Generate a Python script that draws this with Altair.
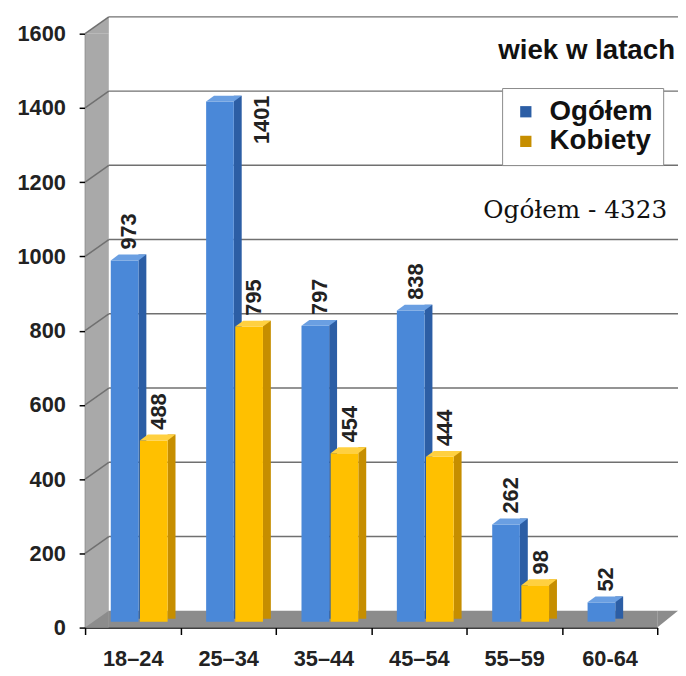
import altair as alt
import pandas as pd

# ---------------- data ----------------
ages = ["18–24", "25–34", "35–44", "45–54", "55–59", "60-64"]
ogolem = [973, 1401, 797, 838, 262, 52]
kobiety = [488, 795, 454, 444, 98, None]
series = ["Ogółem", "Kobiety"]
y_ticks = [0, 200, 400, 600, 800, 1000, 1200, 1400, 1600]
wall_lines = [200, 400, 600, 800, 1000, 1200, 1400, 1600]
title_text = "wiek w latach"
total_text = "Ogółem - 4323"

rows = []
for a, o, k in zip(ages, ogolem, kobiety):
    rows.append({"age": a, "s": series[0], "v": o, "zero": 0})
    if k is not None:
        rows.append({"age": a, "s": series[1], "v": k, "zero": 0})
df = pd.DataFrame(rows)
grid_df = pd.DataFrame({"g": wall_lines})
one = pd.DataFrame({"k": [0]})

# ---------------- style ----------------
W, H = 579, 601
DEPTH_Y = 17
WALL = "#a9a9a9"
FLOOR = "#8c8c8c"
GRID = "#707070"
BLUE_FRONT = "#4a88d8"
BLUE_SIDE = "#2c5ea5"
BLUE_TOP = "#6a9fe2"
GOLD_FRONT = "#ffc000"
GOLD_SIDE = "#c68e00"
GOLD_TOP = "#ffd040"
FONT = "Liberation Sans"

TRI = "M-1,0.7083L1,-0.7083L1,0.7083Z"
TRI_R = "M-0.875,-0.7083L0.875,-0.7083L-0.875,0.7083Z"
TOPFACE = "M-1,0.1667L0.5556,0.1667L1,-0.1667L-0.5556,-0.1667Z"

yscale = alt.Scale(domain=[0, 1600], nice=False)
x_axis = alt.Axis(title=None, grid=False, domainColor="#000000", domainWidth=1.5,
                  tickColor="#000000", tickSize=7, tickWidth=1.5, tickBand="extent",
                  labelAngle=0, labelFont=FONT, labelFontSize=22, labelFontWeight="bold",
                  labelColor="#222222", labelPadding=14)
y_axis = alt.Axis(title=None, values=y_ticks, grid=False, domainColor="#000000",
                  domainWidth=1.5, tickColor="#000000", tickSize=6, tickWidth=1.5,
                  labelFont=FONT, labelFontSize=22, labelFontWeight="bold",
                  labelColor="#222222", labelPadding=14, format="d")

xs = alt.X("age:N", sort=ages, axis=x_axis,
           scale=alt.Scale(domain=ages, paddingInner=0, paddingOuter=0))
ys = alt.Y("v:Q", axis=y_axis, scale=yscale)

# ---------------- decoration (3D box) ----------------
wall = alt.Chart(one).mark_rect(color=WALL).encode(
    x=alt.value(0), x2=alt.value(24),
    y=alt.YDatum(1600, axis=y_axis, scale=yscale),
    y2=alt.Y2Datum(0))
wall_top = alt.Chart(one).mark_point(shape=TRI, size=576, filled=True, opacity=1,
                                     color=WALL, strokeWidth=0, yOffset=-8.5).encode(
    x=alt.value(12), y=alt.YDatum(1600, axis=y_axis, scale=yscale))
floor = alt.Chart(one).mark_rect(color=FLOOR, y2Offset=-DEPTH_Y).encode(
    x=alt.value(24), x2=alt.value(W),
    y=alt.YDatum(0, axis=y_axis, scale=yscale), y2=alt.Y2Datum(0))
floor_l = alt.Chart(one).mark_point(shape=TRI, size=576, filled=True, opacity=1,
                                    color=FLOOR, strokeWidth=0, yOffset=-8.5).encode(
    x=alt.value(12), y=alt.YDatum(0, axis=y_axis, scale=yscale))
floor_r = alt.Chart(one).mark_point(shape=TRI_R, size=576, filled=True, opacity=1,
                                    color=FLOOR, strokeWidth=0, yOffset=-8.5).encode(
    x=alt.value(W + 10.5), y=alt.YDatum(0, axis=y_axis, scale=yscale))
grid = alt.Chart(grid_df).mark_rule(color=GRID, strokeWidth=1.5, yOffset=-DEPTH_Y).encode(
    y=alt.Y("g:Q", axis=y_axis, scale=yscale), x=alt.value(24), x2=alt.value(W + 21))
diag = alt.Chart(grid_df).mark_rule(color=GRID, strokeWidth=1.5, y2Offset=-DEPTH_Y).encode(
    y=alt.Y("g:Q", axis=y_axis, scale=yscale), y2="g:Q", x=alt.value(0), x2=alt.value(24))

legend = alt.Legend(orient="none", legendX=422, legendY=55, title=None,
                    fillColor="white", strokeColor="#8a8a8a", padding=10,
                    symbolType="square", symbolSize=130, symbolStrokeWidth=0,
                    labelFont=FONT, labelFontSize=28, labelFontWeight="bold",
                    labelColor="#111111", rowPadding=2, labelOffset=10)
color_enc = alt.Color("s:N", scale=alt.Scale(domain=series, range=[BLUE_SIDE, GOLD_SIDE]),
                      legend=legend)


def bar_layers(name, front_off, front_c, top_c, lab_off):
    base = alt.Chart(df).transform_filter(alt.datum.s == name)
    side = base.mark_bar(width=8, xOffset=front_off + 18, yOffset=-12, y2Offset=-9).encode(
        x=xs, y=ys, y2="zero:Q", color=color_enc)
    front = base.mark_bar(width=28, xOffset=front_off, yOffset=-6, y2Offset=-6,
                          color=front_c).encode(x=xs, y=ys, y2="zero:Q")
    top = base.mark_point(shape=TOPFACE, size=1296, filled=True, opacity=1, color=top_c,
                          strokeWidth=0, xOffset=front_off + 4, yOffset=-9).encode(x=xs, y=ys)
    lab = base.transform_filter(alt.datum.v <= 1300).mark_text(
        angle=270, align="left", baseline="middle", xOffset=lab_off, yOffset=-17,
        font=FONT, fontSize=22, fontWeight="bold", color="#222222").encode(
        x=xs, y=ys, text="v:Q")
    lab_hi = base.transform_filter(alt.datum.v > 1300).mark_text(
        angle=270, align="right", baseline="middle", xOffset=34, yOffset=-12,
        font=FONT, fontSize=22, fontWeight="bold", color="#222222").encode(
        x=xs, y=ys, text="v:Q")
    return [side, front, top, lab, lab_hi]


blue = bar_layers(series[0], -8.25, BLUE_FRONT, BLUE_TOP, -3.25)
gold = bar_layers(series[1], 21.25, GOLD_FRONT, GOLD_TOP, 26.75)

title_mark = alt.Chart(one).mark_text(text=title_text, align="right", baseline="middle",
                                      font=FONT, fontSize=28, fontWeight="bold",
                                      color="#111111").encode(
    x=alt.value(597), y=alt.value(18))
total_mark = alt.Chart(one).mark_text(text=total_text, align="right", baseline="middle",
                                      font="DejaVu Serif", fontSize=25,
                                      color="#111111").encode(
    x=alt.value(589), y=alt.value(179))

chart = alt.layer(
    wall, wall_top, floor, floor_l, floor_r, grid, diag,
    *blue, *gold, title_mark, total_mark
).properties(
    width=W, height=H,
    background="white",
    autosize=alt.AutoSizeParams(type="none"),
    padding={"left": 78, "top": 22, "right": 21, "bottom": 45},
).configure_view(strokeWidth=0)

chart.save("out.html", embed_options={"renderer": "svg", "actions": False})
